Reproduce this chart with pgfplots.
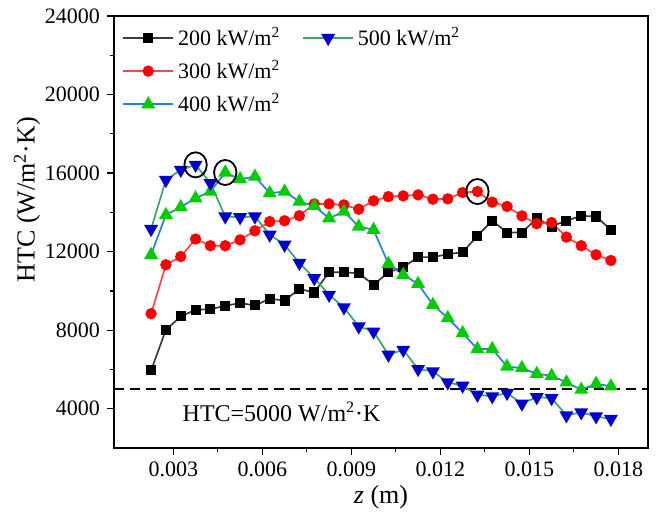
\documentclass[border=0pt]{standalone}
\usepackage{fontspec}
\setmainfont{Liberation Serif}
\usepackage{pgfplots}
\usepackage{pgfplotstable}
\pgfplotsset{compat=1.18}
\definecolor{l200}{RGB}{60,60,60}
\definecolor{l300}{RGB}{255,70,70}
\definecolor{m300}{RGB}{255,0,0}
\definecolor{l400}{RGB}{40,125,225}
\definecolor{m400}{RGB}{0,205,0}
\definecolor{l500}{RGB}{60,165,105}
\definecolor{m500}{RGB}{0,0,205}
\pgfplotstableread{
z q200 q300 q400 q500
0.00225 5950 8840 11840 13150
0.00275 8020 11330 13870 15650
0.00325 8700 11750 14270 16160
0.00375 9040 12640 14720 16420
0.00425 9070 12300 15060 15490
0.00475 9240 12300 16030 13790
0.00525 9380 12600 15690 13750
0.00575 9260 13060 15820 13790
0.00625 9600 13530 14980 12860
0.00675 9510 13570 15060 12350
0.00725 10100 13830 14550 11420
0.00775 9920 14430 14330 10650
0.00825 10950 14430 13700 9800
0.00875 10950 14380 14040 9160
0.00925 10900 14160 13280 8190
0.00975 10310 14590 13110 7930
0.01025 10950 14800 11380 6750
0.01075 11210 14840 10820 7000
0.01125 11720 14890 10360 6020
0.01175 11720 14670 9290 5900
0.01225 11870 14690 8620 5340
0.01275 11970 15010 7850 5170
0.01325 12800 15060 7040 4710
0.01375 13580 14520 7040 4630
0.01425 12970 14300 6150 4800
0.01475 12970 13820 6070 4260
0.01525 13700 13420 5780 4590
0.01575 13280 13480 5680 4540
0.01625 13580 12740 5340 3660
0.01675 13820 12300 4970 3810
0.01725 13790 11840 5270 3610
0.01775 13110 11550 5140 3480
}\datatable
\pgfplotsset{
  s200/.style={l200, line width=0.85pt, mark=square*, mark size=2.1pt, mark options={fill=black, draw=black, solid}},
  s300/.style={l300, line width=0.85pt, mark=*, mark size=2.4pt, mark options={fill=m300, draw=m300, solid}},
  s400/.style={l400, line width=0.85pt, mark=triangle*, mark size=3.2pt, mark options={fill=m400, draw=m400, solid}},
  s500/.style={l500, line width=0.85pt, mark=triangle*, mark size=3.2pt, mark options={fill=m500, draw=m500, solid, rotate=180}},
}
\begin{document}
\begin{tikzpicture}
\begin{axis}[
  scale only axis, width=267pt, height=216pt,
  xmin=0.001, xmax=0.019, ymin=2000, ymax=24000,
  scaled x ticks=false, scaled y ticks=false,
  xtick={0.003,0.006,0.009,0.012,0.015,0.018},
  xticklabels={0.003,0.006,0.009,0.012,0.015,0.018},
  ytick={4000,8000,12000,16000,20000,24000},
  yticklabels={4000,8000,12000,16000,20000,24000},
  minor x tick num=1, minor y tick num=1,
  tick align=outside, xtick pos=left, ytick pos=left,
  major tick length=3.5pt, minor tick length=1.8pt,
  axis line style={line width=0.7pt},
  every tick/.style={black, line width=0.6pt},
  tick label style={font=\fontsize{11}{13}\selectfont},
  xlabel={\textit{z} (m)},
  ylabel={HTC (W/m\textsuperscript{2}·K)},
  label style={font=\fontsize{13}{15}\selectfont},
  xlabel style={at={(axis description cs:0.5,-0.113)}, anchor=center},
  ylabel style={at={(axis description cs:-0.163,0.575)}, anchor=center},
  legend cell align=left,
  legend columns=2,
  legend style={at={(axis description cs:0,1)}, anchor=north west, xshift=4pt, yshift=-3.5pt,
    draw=none, fill=none, inner sep=0pt,
    font=\fontsize{11}{12.5}\selectfont,
    row sep=2pt,
    /tikz/every even column/.append style={column sep=9pt}},
  legend image code/.code={\draw[mark repeat=2,mark phase=2] plot coordinates {(0pt,0pt) (12.5pt,0pt) (25pt,0pt)};},
]
\coordinate (sw) at (rel axis cs:0,0);
\coordinate (ne) at (rel axis cs:1,1);
\addlegendimage{s200}\addlegendentry{200 kW/m\textsuperscript{2}}
\addlegendimage{s500}\addlegendentry{500 kW/m\textsuperscript{2}}
\addlegendimage{s300}\addlegendentry{300 kW/m\textsuperscript{2}}
\addlegendimage{empty legend}\addlegendentry{}
\addlegendimage{s400}\addlegendentry{400 kW/m\textsuperscript{2}}
\addplot[black, dashed, line width=0.8pt, dash pattern=on 5pt off 3pt, forget plot] coordinates {(0.001,5000) (0.019,5000)};
\addplot[s200, forget plot] table[x=z, y=q200] {\datatable};
\addplot[s300, forget plot] table[x=z, y=q300] {\datatable};
\addplot[s400, forget plot] table[x=z, y=q400] {\datatable};
\addplot[s500, forget plot] table[x=z, y=q500] {\datatable};
\addplot[black, only marks, mark=o, mark size=5.6pt, mark options={line width=0.9pt, yscale=1.12}, forget plot] coordinates {(0.00375,16420) (0.00475,16030) (0.01325,15060)};
\node[font=\fontsize{12}{14}\selectfont] at (axis cs:0.00665,3850) {HTC=5000 W/m\textsuperscript{2}·K};
\end{axis}
\pgfresetboundingbox
\path[use as bounding box] ([shift={(-57pt,-34.5pt)}]sw) rectangle ([shift={(6.5pt,8pt)}]ne);
\end{tikzpicture}
\end{document}
